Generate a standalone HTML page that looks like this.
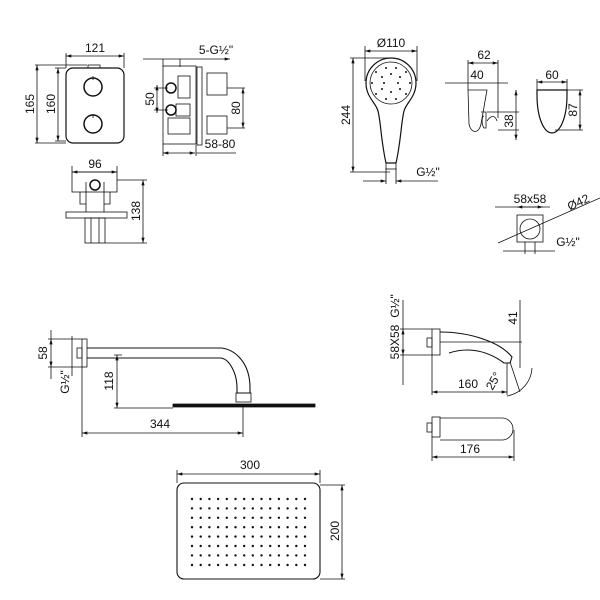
<!DOCTYPE html>
<html><head><style>body{margin:0;background:#fff}svg{display:block}text{font-family:"Liberation Sans Narrow","Liberation Sans",sans-serif;font-size:12px;fill:#111}</style></head><body>
<svg width="600" height="600" viewBox="0 0 600 600" xmlns="http://www.w3.org/2000/svg">
<defs><marker id="a" viewBox="0 0 10 6" refX="10" refY="3" markerWidth="8" markerHeight="4" orient="auto-start-reverse"><path d="M0,0L10,3L0,6z" fill="#111"/></marker></defs>
<g stroke="#111" fill="none" stroke-width="0.8">
<rect x="66" y="68" width="58" height="75" rx="7" stroke-width="1.2"/>
<rect x="88" y="65" width="12" height="3"/>
<circle cx="93" cy="87" r="9" stroke-width="1.5"/><circle cx="93" cy="124" r="9" stroke-width="1.5"/>
<path d="M93,76v4M93,114v4"/>
<path d="M66,53v15M124,53v15M35,65h52M35,143h31M55,68h11M55,141h11"/>
<path d="M66,56h58" marker-start="url(#a)" marker-end="url(#a)"/>
<path d="M37,65v78" marker-start="url(#a)" marker-end="url(#a)"/>
<path d="M58,68v73" marker-start="url(#a)" marker-end="url(#a)"/>
<rect x="163" y="66" width="33" height="78"/>
<rect x="197" y="67" width="5" height="78"/>
<circle cx="171" cy="88" r="5" stroke-width="1.5"/><circle cx="171" cy="110" r="5" stroke-width="1.5"/>
<rect x="178" y="76" width="12" height="22"/><rect x="176" y="104" width="14" height="12"/><rect x="168" y="118" width="22" height="16"/>
<rect x="207" y="73" width="20" height="22"/><rect x="207" y="116" width="20" height="18"/>
<path d="M143,59h87" marker-end="url(#a)"/><path d="M163,59v8M180,59v8"/>
<path d="M157,85v28" marker-start="url(#a)" marker-end="url(#a)"/><path d="M154,88h14M154,110h14"/>
<path d="M243,88v40" marker-start="url(#a)" marker-end="url(#a)"/><path d="M227,88h18M227,128h18"/>
<path d="M163,153h32" marker-start="url(#a)" marker-end="url(#a)"/><path d="M163,144v12M196,145v11M196,153h40"/>
<rect x="72" y="172" width="45" height="20"/>
<circle cx="95" cy="185" r="5" stroke-width="1.5"/>
<path d="M80,192v12h6v8M110,192v12h-6v8M86,182v22M104,182v22"/>
<rect x="66" y="212" width="61" height="6"/>
<rect x="85" y="218" width="20" height="25"/><path d="M91,218v25M99,218v25"/>
<path d="M72,172h45" marker-start="url(#a)" marker-end="url(#a)"/><path d="M72,166v6M117,166v6"/>
<path d="M143,180v63" marker-start="url(#a)" marker-end="url(#a)"/><path d="M117,180h30M105,243h42"/>
<path d="M366,83a25,25 0 0 1 50,0c0,14 -10,20 -12,28c-3,12 -3,30 -8,52h-10c-5,-22 -5,-40 -8,-52c-2,-8 -12,-14 -12,-28z" stroke-width="1.2"/>
<circle cx="391" cy="83" r="21"/>
<rect x="386" y="163" width="10" height="6"/>
<path d="M365,51h52" marker-start="url(#a)" marker-end="url(#a)"/><path d="M365,46v35M417,46v35"/>
<path d="M353,58v114" marker-start="url(#a)" marker-end="url(#a)"/><path d="M350,58h40M350,172h40"/>
<path d="M363,181h23" marker-end="url(#a)"/><path d="M438,181h-42" marker-end="url(#a)"/><path d="M386,168v16M396,168v16"/>
<path d="M468,90h19l-6,34c-2,10 -10,10 -12,0z" fill="none"/><path d="M481,112h5v16h-2c-3,-4 -2,-12 0,-12"/><path d="M487,121c4,-6 8,-6 10,0"/>
<path d="M468,63h30" marker-start="url(#a)" marker-end="url(#a)"/><path d="M468,60v30M498,60v58"/>
<path d="M445,83h23M508,83h-21"/><path d="M468,83h19"/>
<path d="M516,90v50" marker-start="url(#a)" marker-end="url(#a)"/><path d="M487,112h32M498,130h21"/>
<path d="M537,90h30v5c0,25 -8,38 -15,38c-8,0 -15,-15 -15,-38z" stroke-width="1.2" fill="none"/>
<path d="M537,82h30" marker-start="url(#a)" marker-end="url(#a)"/><path d="M537,79v11M567,79v11"/>
<path d="M580,90v40" marker-start="url(#a)" marker-end="url(#a)"/><path d="M567,90h16M555,130h28"/>
<rect x="517" y="215" width="26" height="27"/><circle cx="530" cy="229" r="10"/>
<path d="M495,207h55"/><path d="M517,207h26" marker-start="url(#a)" marker-end="url(#a)"/>
<path d="M498,243L600,198"/><path d="M503,251h52"/><path d="M525,242v12M535,242v12"/>
<rect x="82" y="339" width="5" height="28"/><rect x="77" y="348" width="5" height="10"/>
<path d="M87,348h133c12,0 30,12 30,40v5h-13v-5c0,-15 -8,-30 -17,-30h-133" stroke-width="1.1"/>
<rect x="236" y="393" width="15" height="9"/>
<path d="M173,404h142v3h-142z" fill="#111"/>
<path d="M51,339v28" marker-start="url(#a)" marker-end="url(#a)"/><path d="M48,339h34M48,367h34M51,330v9M51,367v12"/>
<path d="M72,336v40"/>
<path d="M117,355v53" marker-start="url(#a)" marker-end="url(#a)"/><path d="M114,408h59M114,355h8"/>
<path d="M82,433h161" marker-start="url(#a)" marker-end="url(#a)"/><path d="M82,367v70M243,407v30"/>
<rect x="432" y="329" width="8" height="26"/><rect x="427" y="338" width="5" height="9"/>
<path d="M440,332c30,0 60,10 72,25l-2,6h-6c-20,-15 -40,-15 -55,-10" stroke-width="1.1"/>
<path d="M403,329v26" marker-start="url(#a)" marker-end="url(#a)"/><path d="M400,329h32M400,355h32M403,300v29M403,355v30"/>
<path d="M520,300v68"/><path d="M440,342h82"/>
<path d="M432,392h75" marker-start="url(#a)" marker-end="url(#a)"/><path d="M432,355v40M507,363v32"/>
<path d="M510,362L520,392M532,368a30,30 0 0 1 -25,28"/>
<rect x="432" y="417" width="8" height="20"/><rect x="427" y="423" width="5" height="9"/>
<path d="M440,418h62a11,11 0 0 1 0,22h-62"/>
<path d="M432,457h82" marker-start="url(#a)" marker-end="url(#a)"/><path d="M432,437v24M514,430v31"/>
<rect x="177" y="483" width="143" height="96" rx="7" stroke-width="1.1"/>
<path d="M177,474h143" marker-start="url(#a)" marker-end="url(#a)"/><path d="M177,470v13M320,470v13"/>
<path d="M342,485v94" marker-start="url(#a)" marker-end="url(#a)"/><path d="M320,485h25M320,579h25"/>
</g>
<g fill="#111">
<circle cx="376" cy="72" r="1"/><circle cx="386" cy="68" r="1"/><circle cx="396" cy="68" r="1"/><circle cx="406" cy="72" r="1"/><circle cx="372" cy="83" r="1"/><circle cx="410" cy="83" r="1"/><circle cx="376" cy="94" r="1"/><circle cx="406" cy="94" r="1"/><circle cx="386" cy="99" r="1"/><circle cx="396" cy="99" r="1"/>
<circle cx="382" cy="77" r="1"/><circle cx="400" cy="77" r="1"/><circle cx="382" cy="89" r="1"/><circle cx="400" cy="89" r="1"/><circle cx="391" cy="74" r="1"/><circle cx="391" cy="92" r="1"/><circle cx="384" cy="83" r="1"/><circle cx="398" cy="83" r="1"/>
<g id="r"><circle cx="192" cy="499" r="1.2"/><circle cx="200.7" cy="499" r="1.2"/><circle cx="209.4" cy="499" r="1.2"/><circle cx="218.1" cy="499" r="1.2"/><circle cx="226.8" cy="499" r="1.2"/><circle cx="235.5" cy="499" r="1.2"/><circle cx="244.2" cy="499" r="1.2"/><circle cx="252.8" cy="499" r="1.2"/><circle cx="261.5" cy="499" r="1.2"/><circle cx="270.2" cy="499" r="1.2"/><circle cx="278.9" cy="499" r="1.2"/><circle cx="287.6" cy="499" r="1.2"/><circle cx="296.3" cy="499" r="1.2"/><circle cx="305" cy="499" r="1.2"/></g>
<use href="#r" y="9.4"/><use href="#r" y="18.8"/><use href="#r" y="28.2"/><use href="#r" y="37.6"/><use href="#r" y="47"/><use href="#r" y="56.4"/><use href="#r" y="66"/>
</g>
<text x="95" y="52" text-anchor="middle">121</text>
<text transform="translate(34,104) rotate(-90)" text-anchor="middle">165</text>
<text transform="translate(55,104) rotate(-90)" text-anchor="middle">160</text>
<text x="216" y="54" text-anchor="middle">5-G½"</text>
<text transform="translate(154,99) rotate(-90)" text-anchor="middle">50</text>
<text transform="translate(240,108) rotate(-90)" text-anchor="middle">80</text>
<text x="220" y="148" text-anchor="middle">58-80</text>
<text x="95" y="168" text-anchor="middle">96</text>
<text transform="translate(140,211) rotate(-90)" text-anchor="middle">138</text>
<text x="391" y="47" text-anchor="middle">Ø110</text>
<text transform="translate(350,115) rotate(-90)" text-anchor="middle">244</text>
<text x="428" y="176" text-anchor="middle">G½"</text>
<text x="484" y="59" text-anchor="middle">62</text>
<text x="477" y="79" text-anchor="middle">40</text>
<text transform="translate(513,121) rotate(-90)" text-anchor="middle">38</text>
<text x="552" y="79" text-anchor="middle">60</text>
<text transform="translate(577,110) rotate(-90)" text-anchor="middle">87</text>
<text x="530" y="203" text-anchor="middle">58x58</text>
<text transform="translate(580,206) rotate(-25)" text-anchor="middle">Ø42</text>
<text x="568" y="246" text-anchor="middle">G½"</text>
<text transform="translate(47,353) rotate(-90)" text-anchor="middle">58</text>
<text transform="translate(69,382) rotate(-90)" text-anchor="middle">G½"</text>
<text transform="translate(113,381) rotate(-90)" text-anchor="middle">118</text>
<text x="160" y="428" text-anchor="middle">344</text>
<text transform="translate(399,342) rotate(-90)" text-anchor="middle">58X58</text>
<text transform="translate(399,306) rotate(-90)" text-anchor="middle">G½"</text>
<text transform="translate(517,318) rotate(-90)" text-anchor="middle">41</text>
<text x="468" y="388" text-anchor="middle">160</text>
<text transform="translate(497,383) rotate(-60)" text-anchor="middle">25°</text>
<text x="470" y="453" text-anchor="middle">176</text>
<text x="250" y="469" text-anchor="middle">300</text>
<text transform="translate(339,531) rotate(-90)" text-anchor="middle">200</text>
</svg>
</body></html>
